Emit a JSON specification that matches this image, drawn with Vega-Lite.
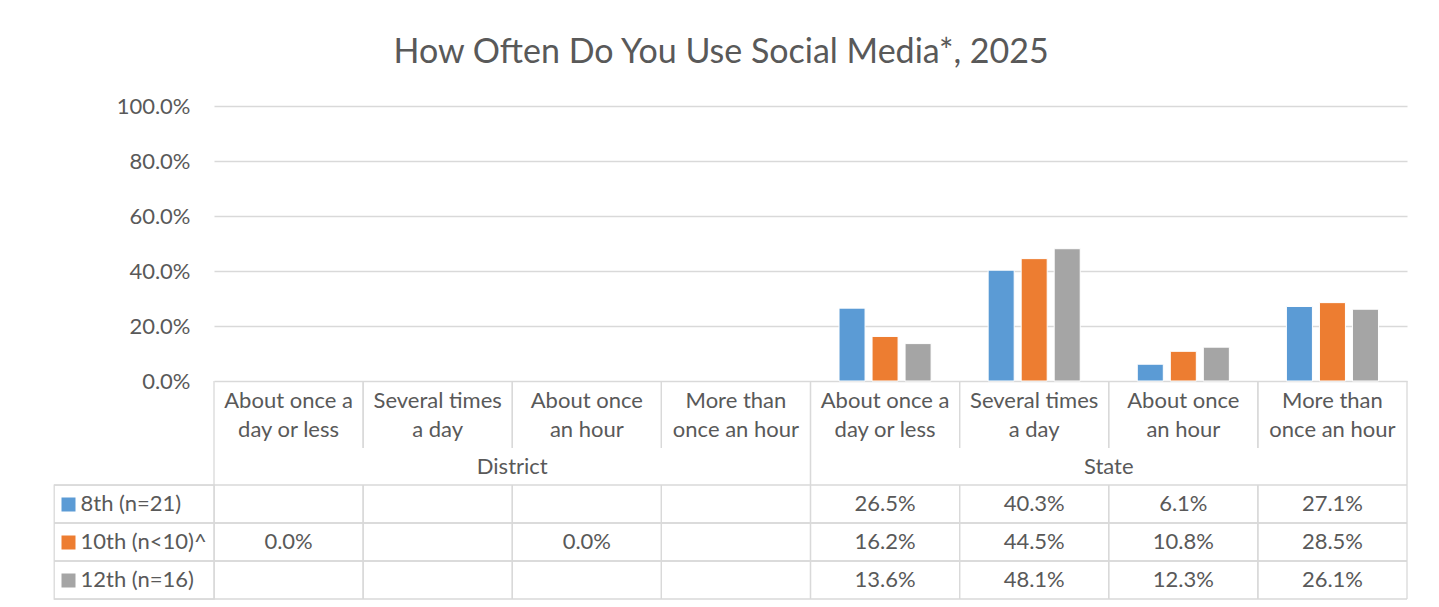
{
  "$schema": "https://vega.github.io/schema/vega-lite/v6.json",
  "background": "white",
  "padding": {"left": 52, "top": 36, "right": 34, "bottom": 8},
  "title": {
    "text": "How Often Do You Use Social Media*, 2025",
    "font": "Lato",
    "fontSize": 34,
    "fontWeight": "normal",
    "color": "#595959",
    "anchor": "middle",
    "dx": -9,
    "offset": 25
  },
  "config": {
    "font": "Lato",
    "view": {"stroke": null},
    "axis": {"labelFont": "Lato", "labelColor": "#595959", "labelFontSize": 22}
  },
  "datasets": {
    "cells": [
      {"col": "D1", "grade": "8th (n=21)", "value": null},
      {"col": "D1", "grade": "10th (n<10)^", "value": 0},
      {"col": "D1", "grade": "12th (n=16)", "value": null},
      {"col": "D2", "grade": "8th (n=21)", "value": null},
      {"col": "D2", "grade": "10th (n<10)^", "value": null},
      {"col": "D2", "grade": "12th (n=16)", "value": null},
      {"col": "D3", "grade": "8th (n=21)", "value": null},
      {"col": "D3", "grade": "10th (n<10)^", "value": 0},
      {"col": "D3", "grade": "12th (n=16)", "value": null},
      {"col": "D4", "grade": "8th (n=21)", "value": null},
      {"col": "D4", "grade": "10th (n<10)^", "value": null},
      {"col": "D4", "grade": "12th (n=16)", "value": null},
      {"col": "S1", "grade": "8th (n=21)", "value": 0.265},
      {"col": "S1", "grade": "10th (n<10)^", "value": 0.162},
      {"col": "S1", "grade": "12th (n=16)", "value": 0.136},
      {"col": "S2", "grade": "8th (n=21)", "value": 0.403},
      {"col": "S2", "grade": "10th (n<10)^", "value": 0.445},
      {"col": "S2", "grade": "12th (n=16)", "value": 0.481},
      {"col": "S3", "grade": "8th (n=21)", "value": 0.061},
      {"col": "S3", "grade": "10th (n<10)^", "value": 0.108},
      {"col": "S3", "grade": "12th (n=16)", "value": 0.123},
      {"col": "S4", "grade": "8th (n=21)", "value": 0.271},
      {"col": "S4", "grade": "10th (n<10)^", "value": 0.285},
      {"col": "S4", "grade": "12th (n=16)", "value": 0.261}
    ],
    "columns": [
      {"col": "D1", "group": "District", "label": ["About once a", "day or less"]},
      {"col": "D2", "group": "District", "label": ["Several times", "a day"]},
      {"col": "D3", "group": "District", "label": ["About once", "an hour"]},
      {"col": "D4", "group": "District", "label": ["More than", "once an hour"]},
      {"col": "S1", "group": "State", "label": ["About once a", "day or less"]},
      {"col": "S2", "group": "State", "label": ["Several times", "a day"]},
      {"col": "S3", "group": "State", "label": ["About once", "an hour"]},
      {"col": "S4", "group": "State", "label": ["More than", "once an hour"]}
    ],
    "groups": [{"group": "District"}, {"group": "State"}],
    "grades": [{"grade": "8th (n=21)"}, {"grade": "10th (n<10)^"}, {"grade": "12th (n=16)"}]
  },
  "columns": 2,
  "spacing": 0,
  "bounds": "flush",
  "concat": [
    {
      "width": 160, "height": 275,
      "data": {"values": [{}]},
      "mark": {"type": "text"},
      "encoding": {"text": {"value": ""}}
    },
    {
      "width": 1193, "height": 275,
      "data": {"name": "cells"},
      "transform": [{"filter": "datum.value > 0"}],
      "mark": {"type": "bar", "stroke": "white", "strokeWidth": 1},
      "encoding": {
        "x": {"field": "col", "type": "nominal", "axis": null,
              "scale": {"type": "band", "domain": ["D1","D2","D3","D4","S1","S2","S3","S4"], "paddingInner": 0, "paddingOuter": 0}},
        "xOffset": {"field": "grade", "type": "nominal",
              "scale": {"domain": ["8th (n=21)", "10th (n<10)^", "12th (n=16)"], "paddingInner": 0.212, "paddingOuter": 0.864}},
        "y": {"field": "value", "type": "quantitative",
              "scale": {"domain": [0, 1]},
              "axis": {"title": null, "format": ".1%", "values": [0, 0.2, 0.4, 0.6, 0.8, 1],
                       "grid": true, "gridColor": "#D9D9D9", "gridWidth": 1.3,
                       "domain": false, "ticks": false, "labelPadding": 24}},
        "color": {"field": "grade", "type": "nominal", "legend": null,
              "scale": {"domain": ["8th (n=21)", "10th (n<10)^", "12th (n=16)"], "range": ["#5B9BD5", "#ED7D31", "#A5A5A5"]}}
      }
    },
    {
      "width": 160, "height": 67,
      "data": {"values": [{}]},
      "mark": {"type": "text"},
      "encoding": {"text": {"value": ""}}
    },
    {
      "width": 1193, "height": 67,
      "data": {"name": "columns"},
      "encoding": {
        "x": {"field": "col", "type": "nominal", "axis": null,
              "scale": {"type": "band", "domain": ["D1","D2","D3","D4","S1","S2","S3","S4"], "paddingInner": 0, "paddingOuter": 0}}
      },
      "layer": [
        {"mark": {"type": "rule", "color": "#D9D9D9", "strokeWidth": 1.3}, "encoding": {"x": {"field": "col", "type": "nominal", "bandPosition": 0}}},
        {"mark": {"type": "rule", "color": "#D9D9D9", "strokeWidth": 1.3}, "encoding": {"x": {"field": "col", "type": "nominal", "bandPosition": 1}}},
        {"mark": {"type": "text", "fontSize": 22, "color": "#595959", "lineHeight": 29, "baseline": "middle", "dy": -14},
         "encoding": {"x": {"field": "col", "type": "nominal", "bandPosition": 0.5}, "text": {"field": "label"}}}
      ]
    },
    {
      "width": 160, "height": 37,
      "data": {"values": [{}]},
      "mark": {"type": "text"},
      "encoding": {"text": {"value": ""}}
    },
    {
      "width": 1193, "height": 37,
      "data": {"name": "groups"},
      "encoding": {
        "x": {"field": "group", "type": "nominal", "axis": null,
              "scale": {"type": "band", "domain": ["District", "State"], "paddingInner": 0, "paddingOuter": 0}}
      },
      "layer": [
        {"mark": {"type": "rule", "color": "#D9D9D9", "strokeWidth": 1.3}, "encoding": {"x": {"field": "group", "type": "nominal", "bandPosition": 0}}},
        {"mark": {"type": "rule", "color": "#D9D9D9", "strokeWidth": 1.3}, "encoding": {"x": {"field": "group", "type": "nominal", "bandPosition": 1}}},
        {"mark": {"type": "text", "fontSize": 22, "color": "#595959", "baseline": "middle"},
         "encoding": {"x": {"field": "group", "type": "nominal", "bandPosition": 0.5}, "text": {"field": "group"}}}
      ]
    },
    {
      "width": 160, "height": 114,
      "view": {"stroke": "#D9D9D9", "strokeWidth": 1.3},
      "data": {"name": "grades"},
      "encoding": {
        "y": {"field": "grade", "type": "nominal",
              "scale": {"type": "band", "domain": ["8th (n=21)", "10th (n<10)^", "12th (n=16)"], "paddingInner": 0, "paddingOuter": 0},
              "axis": {"title": null, "orient": "left", "offset": -21, "domain": false, "grid": false,
                       "ticks": true, "tickSize": 14, "tickWidth": 14,
                       "tickColor": {"condition": [{"test": "datum.value === '8th (n=21)'", "value": "#5B9BD5"}, {"test": "datum.value === '10th (n<10)^'", "value": "#ED7D31"}], "value": "#A5A5A5"},
                       "labelAlign": "left", "labelPadding": -19, "labelBaseline": "middle"}}
      },
      "layer": [
        {"mark": {"type": "rule", "color": "#D9D9D9", "strokeWidth": 1.3}, "encoding": {"y": {"field": "grade", "type": "nominal", "bandPosition": 0}}},
        {"mark": {"type": "rule", "color": "#D9D9D9", "strokeWidth": 1.3}, "encoding": {"y": {"field": "grade", "type": "nominal", "bandPosition": 1}}}
      ]
    },
    {
      "width": 1193, "height": 114,
      "layer": [
        {
          "data": {"name": "cells"},
          "transform": [{"filter": "isValid(datum.value)"}],
          "mark": {"type": "text", "fontSize": 22, "color": "#595959", "baseline": "middle"},
          "encoding": {
            "x": {"field": "col", "type": "nominal", "axis": null, "bandPosition": 0.5,
                  "scale": {"type": "band", "domain": ["D1","D2","D3","D4","S1","S2","S3","S4"], "paddingInner": 0, "paddingOuter": 0}},
            "y": {"field": "grade", "type": "nominal", "axis": null, "bandPosition": 0.5,
                  "scale": {"type": "band", "domain": ["8th (n=21)", "10th (n<10)^", "12th (n=16)"], "paddingInner": 0, "paddingOuter": 0}},
            "text": {"field": "value", "type": "quantitative", "format": ".1%"}
          }
        },
        {"data": {"name": "grades"}, "mark": {"type": "rule", "color": "#D9D9D9", "strokeWidth": 1.3}, "encoding": {"y": {"field": "grade", "type": "nominal", "bandPosition": 0}}},
        {"data": {"name": "grades"}, "mark": {"type": "rule", "color": "#D9D9D9", "strokeWidth": 1.3}, "encoding": {"y": {"field": "grade", "type": "nominal", "bandPosition": 1}}},
        {"data": {"name": "columns"}, "mark": {"type": "rule", "color": "#D9D9D9", "strokeWidth": 1.3}, "encoding": {"x": {"field": "col", "type": "nominal", "bandPosition": 0}}},
        {"data": {"name": "columns"}, "mark": {"type": "rule", "color": "#D9D9D9", "strokeWidth": 1.3}, "encoding": {"x": {"field": "col", "type": "nominal", "bandPosition": 1}}}
      ]
    }
  ]
}
